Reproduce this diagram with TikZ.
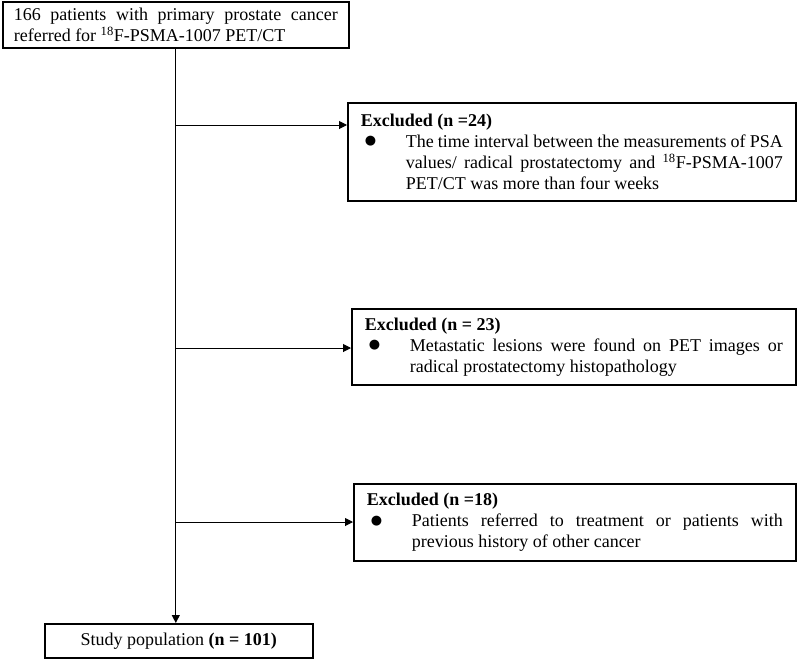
\documentclass[tikz,border=0pt]{standalone}
\usepackage{fontspec}
\setmainfont{Liberation Serif}
\newfontfamily\dotfont{DejaVu Sans}
\usetikzlibrary{arrows.meta}

\hyphenpenalty=10000
\exhyphenpenalty=10000
\newlength{\bulletind}
\setlength{\bulletind}{45pt}
\newcommand{\bigdot}{\raisebox{2.5pt}{\dotfont\fontsize{13}{21}\selectfont ●}}
\newcommand{\bulletrow}[1]{\par\noindent\makebox[\bulletind][l]{\hspace{4pt}\bigdot}%
  \parbox[t]{\dimexpr\linewidth-\bulletind\relax}{#1}}

\begin{document}
\begin{tikzpicture}[x=1pt, y=-1pt, line width=1pt,
        every node/.append style={font=\fontsize{18}{21}\selectfont},
        >={Triangle[length=8pt,width=8pt]}]
      \tikzstyle{box} = [draw, line width=1.6pt, anchor=north west, inner xsep=13pt, inner ysep=5pt, align=justify]
      \useasboundingbox (0,0) rectangle (797,659);
      \node (patients) [box, text width=324pt, inner xsep=11pt, minimum height=46pt] at (2,1)
        {166 patients with primary prostate cancer referred for \textsuperscript{18}F-PSMA-1007 PET/CT};
      \node (exA) [box, text width=422pt, minimum height=98pt] at (347,102)
        {\textbf{Excluded (n =24)}
         \bulletrow{The time interval between the measurements of PSA values/ radical prostatectomy and \textsuperscript{18}F-PSMA-1007 PET/CT was more than four weeks}};
      \node (exB) [box, text width=418pt, minimum height=76pt] at (351,308)
        {\textbf{Excluded (n = 23)}
         \bulletrow{Metastatic lesions were found on PET images or radical prostatectomy histopathology}};
      \node (exC) [box, text width=416pt, minimum height=77pt] at (353,483)
        {\textbf{Excluded (n =18)}
         \bulletrow{Patients referred to treatment or patients with previous history of other cancer}};
      \node (study) [box, align=center, minimum width=268pt, minimum height=34pt, inner ysep=3pt] at (44,623)
        {Study population \textbf{(n = 101)}};
      % trunk and side branches
      \coordinate (top) at (patients.south);
      \coordinate (brA) at (top |- 0,125);
      \coordinate (brB) at (top |- 0,348);
      \coordinate (brC) at (top |- 0,522);
      \draw[->] (top) -- (top |- study.north);
      \draw[->] (brA) -- (brA -| exA.west);
      \draw[->] (brB) -- (brB -| exB.west);
      \draw[->] (brC) -- (brC -| exC.west);
    \end{tikzpicture}
\end{document}
